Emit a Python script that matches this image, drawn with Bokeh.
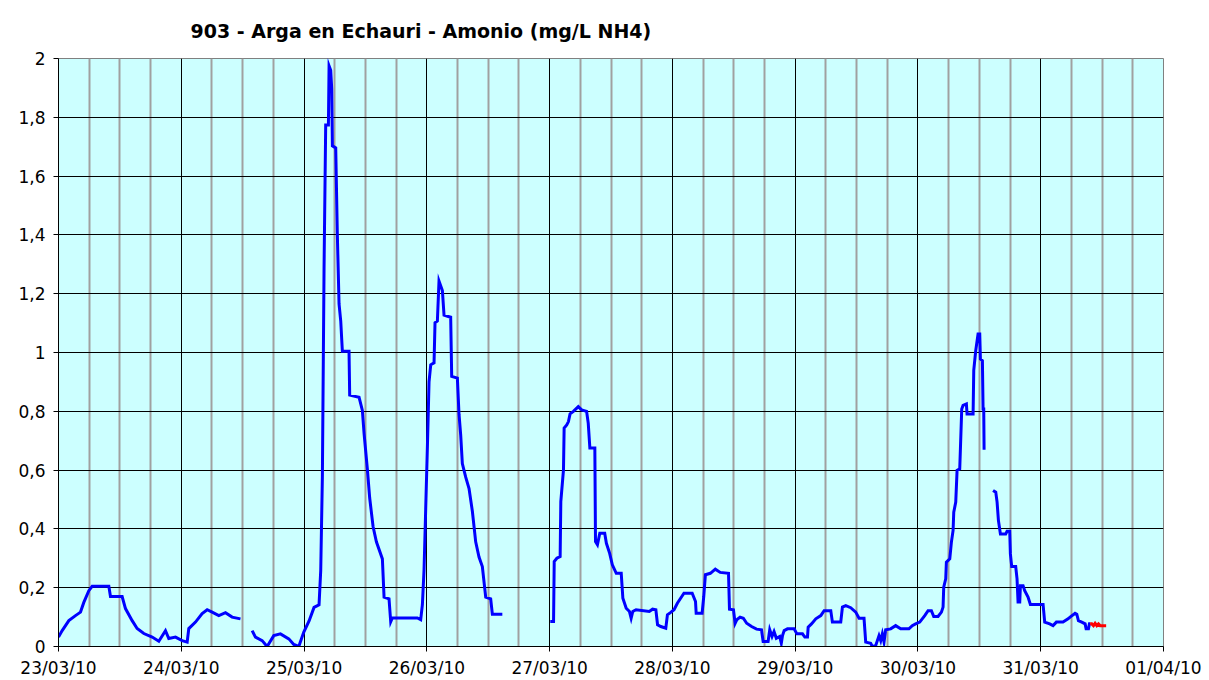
import math
from bokeh.plotting import figure
from bokeh.models import FixedTicker, CustomJSTickFormatter, Title, Range1d
from bokeh.embed import file_html
from bokeh.resources import INLINE

TITLE = "903 - Arga en Echauri - Amonio (mg/L NH4)"

# hours since 23/03/10 00:00 (None = gap in the record)
blue_hours = [
    0.0, 0.72, 2.02, 3.32, 4.30, 4.95, 5.93, 6.58, 9.84, 10.16, 12.44, 13.09, 14.40, 15.37,
    16.68, 18.31, 19.61, 20.91, 21.56, 22.87, 24.17, 25.15, 25.47, 26.78, 28.08, 29.06,
    30.03, 31.34, 32.64, 33.94, 35.57, None,
    37.85, 38.50, 39.81, 40.78, 42.08, 43.39, 45.02, 45.99, 46.97, 47.95, 48.98, 49.95,
    50.93, 51.26, 51.58, 51.91, 52.23, 52.76, 52.89, 53.21, 53.41, 53.54, 54.19, 54.51,
    54.84, 55.17, 55.49, 56.79, 56.92, 58.75, 59.40, 59.73, 60.38, 60.83, 61.49, 62.14,
    63.31, 63.64, 64.61, 64.94, 65.26, 70.15, 70.80, 71.13, 71.45, 72.10, 72.43, 72.76,
    73.41, 73.60, 74.06, 74.38, 75.04, 75.36, 76.66, 76.86, 77.97, 78.29, 78.62, 78.94,
    79.60, 80.25, 80.90, 81.55, 82.20, 82.85, 83.51, 84.48, 84.81, 86.76, None,
    96.13, 96.77, 96.90, 97.42, 98.06, 98.19, 98.71, 98.84, 99.35, 99.68, 100.00, 100.65,
    101.61, 102.26, 103.23, 103.55, 103.87, 104.84, 104.97, 105.35, 105.81, 106.77, 107.10,
    107.74, 108.26, 109.03, 110.00, 110.32, 110.97, 111.61, 111.94, 112.26, 112.90, 115.48,
    116.13, 116.77, 117.10, 117.74, 118.71, 119.03, 119.68, 120.32, 120.97, 121.61, 122.26,
    123.87, 124.52, 124.65, 125.81, 126.13, 126.45, 127.42, 128.39, 129.35, 130.97, 131.16,
    131.94, 132.26, 132.58, 133.23, 133.87, 134.52, 135.48, 136.45, 137.42, 137.74, 138.71,
    139.03, 139.48, 139.87, 140.32, 140.97, 141.29, 141.53, 141.85, 142.50, 143.80, 144.33,
    145.43, 145.89, 146.41, 146.54, 147.19, 148.03, 149.01, 149.66, 150.96, 151.28, 152.91,
    153.24, 153.89, 154.86, 155.84, 156.49, 157.46, 157.79, 158.76, 159.09, 159.74, 160.39,
    160.72, 161.04, 161.37, 161.69, 162.67, 163.64, 164.62, 166.24, 166.89, 167.54, 168.35,
    169.33, 169.98, 170.63, 171.09, 171.93, 172.59, 172.91, 173.04, 173.43, 173.56, 174.22,
    174.54, 174.87, 175.00, 175.39, 175.65, 176.17, 176.30, 176.56, 176.82, 177.47, 177.60,
    178.78, 178.91, 179.30, 179.75, 180.08, 180.21, 180.60, 180.73, 180.86, 180.93, None,
    182.68, 183.21, 183.47, 183.73, 184.12, 185.16, 185.42, 185.94, 186.07, 186.33, 187.11,
    187.37, 187.57, 187.90, 188.03, 188.55, 188.87, 189.52, 189.98, 192.46, 192.78, 193.76,
    194.41, 195.06, 196.36, 197.34, 197.74, 198.72, 199.05, 199.37, 200.02, 200.68, 200.87,
    201.33, 201.52, 201.65,
]
blue_values = [
    0.032, 0.054, 0.088, 0.105, 0.117, 0.150, 0.190, 0.205, 0.205, 0.170, 0.170, 0.129, 0.088, 0.061,
    0.044, 0.032, 0.018, 0.054, 0.027, 0.032, 0.020, 0.015, 0.061, 0.083, 0.112, 0.125,
    0.117, 0.105, 0.115, 0.100, 0.094, None,
    0.054, 0.032, 0.020, 0.000, 0.037, 0.043, 0.026, 0.007, 0.000, 0.049, 0.087, 0.133,
    0.142, 0.259, 0.576, 1.289, 1.774, 1.774, 1.975, 1.960, 1.897, 1.703, 1.696, 1.399,
    1.165, 1.107, 1.004, 1.004, 0.855, 0.848, 0.803, 0.725, 0.602, 0.505, 0.408, 0.356,
    0.298, 0.168, 0.162, 0.084, 0.097, 0.097, 0.091, 0.142, 0.259, 0.673, 0.900, 0.958,
    0.965, 1.101, 1.107, 1.243, 1.211, 1.127, 1.120, 0.919, 0.913, 0.790, 0.719, 0.622,
    0.576, 0.537, 0.460, 0.356, 0.304, 0.272, 0.168, 0.162, 0.110, 0.110, None,
    0.085, 0.085, 0.289, 0.300, 0.306, 0.493, 0.601, 0.743, 0.754, 0.765, 0.791, 0.800,
    0.816, 0.805, 0.800, 0.760, 0.675, 0.675, 0.357, 0.346, 0.385, 0.385, 0.351,
    0.317, 0.278, 0.249, 0.249, 0.164, 0.130, 0.119, 0.096, 0.119, 0.125, 0.119,
    0.127, 0.125, 0.074, 0.068, 0.062, 0.108, 0.116, 0.125, 0.147, 0.164, 0.181,
    0.181, 0.153, 0.113, 0.113, 0.170, 0.244, 0.249, 0.263, 0.252, 0.249, 0.127,
    0.125, 0.079, 0.091, 0.100, 0.096, 0.079, 0.068, 0.059, 0.057, 0.017, 0.017,
    0.057, 0.034, 0.051, 0.028, 0.034, 0.011, 0.037, 0.054, 0.060, 0.060, 0.043,
    0.043, 0.032, 0.032, 0.066, 0.077, 0.094, 0.105, 0.122, 0.122, 0.083, 0.083,
    0.134, 0.139, 0.132, 0.117, 0.096, 0.096, 0.015, 0.011, 0.000, 0.003, 0.037,
    0.020, 0.043, 0.015, 0.057, 0.060, 0.071, 0.060, 0.060, 0.071, 0.077, 0.083,
    0.105, 0.122, 0.122, 0.102, 0.102, 0.117, 0.134, 0.202, 0.230, 0.287, 0.298,
    0.355, 0.395, 0.457, 0.491, 0.599, 0.604, 0.672, 0.808, 0.820, 0.825, 0.791,
    0.791, 0.939, 1.007, 1.063, 1.063, 0.978, 0.972, 0.808, 0.808, 0.669, None,
    0.531, 0.525, 0.491, 0.429, 0.383, 0.383, 0.392, 0.392, 0.315, 0.272, 0.272,
    0.230, 0.151, 0.151, 0.207, 0.207, 0.190, 0.168, 0.143, 0.143, 0.083, 0.077,
    0.071, 0.083, 0.083, 0.094, 0.100, 0.113, 0.110, 0.088, 0.083, 0.077, 0.060,
    0.060, 0.077, 0.077,
]
red_hours = [201.65, 201.98, 202.31, 202.63, 202.96, 203.29, 203.61, 204.79]
red_values = [0.077, 0.077, 0.071, 0.079, 0.071, 0.077, 0.071, 0.071]

day_labels = ["23/03/10", "24/03/10", "25/03/10", "26/03/10", "27/03/10",
              "28/03/10", "29/03/10", "30/03/10", "31/03/10", "01/04/10"]
y_ticks = [0, 0.2, 0.4, 0.6, 0.8, 1.0, 1.2, 1.4, 1.6, 1.8, 2.0]

def nanify(seq):
    return [float("nan") if v is None else v for v in seq]

W, H = 1209, 680
p = figure(width=W, height=H, output_backend="svg", toolbar_location=None,
           x_range=Range1d(0, 24 * (len(day_labels) - 1)), y_range=Range1d(0, 2))
p.min_border_left = 58
p.min_border_right = W - 1163
p.min_border_top = 58
p.min_border_bottom = H - 646
p.background_fill_color = "#CCFFFF"
p.border_fill_color = "white"
p.outline_line_color = "#808080"
p.outline_line_width = 1

major_x = [24 * i for i in range(len(day_labels))]
minor_x = [6 * i for i in range(4 * (len(day_labels) - 1) + 1) if (6 * i) % 24 != 0]
p.xaxis.ticker = FixedTicker(ticks=major_x, minor_ticks=minor_x)
p.xaxis.major_label_overrides = {h: lab for h, lab in zip(major_x, day_labels)}
p.yaxis.ticker = FixedTicker(ticks=y_ticks)
p.yaxis.formatter = CustomJSTickFormatter(
    code="var s = tick.toFixed(1); if (s.endsWith('.0')) s = s.slice(0, -2); return s.replace('.', ',');")

for ax in (p.xaxis[0], p.yaxis[0]):
    ax.axis_line_color = "black"
    ax.axis_line_width = 1
    ax.major_tick_line_color = "black"
    ax.major_tick_out = 5
    ax.major_tick_in = 0
    ax.minor_tick_line_color = None
    ax.major_label_text_font = "DejaVu Sans"
    ax.major_label_text_font_size = "17px"
    ax.major_label_text_color = "black"
p.xaxis.major_label_standoff = 6
p.yaxis.major_label_standoff = 8

p.xgrid.grid_line_color = "black"
p.xgrid.grid_line_width = 1
p.xgrid.minor_grid_line_color = "#A0A0A0"
p.xgrid.minor_grid_line_width = 2
p.ygrid.grid_line_color = "black"
p.ygrid.grid_line_width = 1

p.line(nanify(blue_hours), nanify(blue_values), line_color="#0000FF",
       line_width=3, line_join="miter")
p.line(red_hours, red_values, line_color="#FF0000", line_width=3, line_join="miter")

t = Title(text=TITLE, align="left", offset=132, standoff=33, text_font="DejaVu Sans",
          text_font_style="bold", text_font_size="19px", text_color="black")
p.add_layout(t, "above")

open("out.html", "w").write(file_html(p, INLINE))
